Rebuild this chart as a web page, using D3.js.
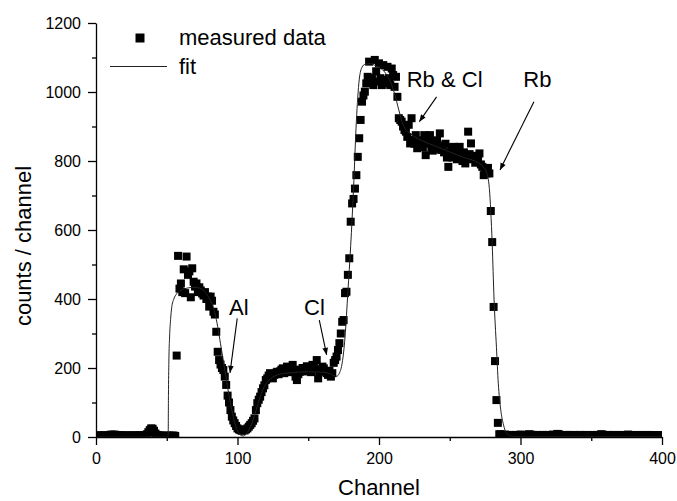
<!DOCTYPE html>
<html>
<head>
<meta charset="utf-8">
<script src="https://cdn.jsdelivr.net/npm/d3@7"></script>
<style>
  body { margin: 0; background: #fff; }
  text { font-family: "Liberation Sans", Arial, sans-serif; fill: #000; }
</style>
</head>
<body>
<div id="chart"></div>
<script>
const WIDTH = 677;
const HEIGHT = 501;
const margin = { top: 23, right: 15, bottom: 64, left: 96 };

// measured counts, one value per channel (0..400)
const counts = [
  4, 3, 5, 4, 3, 4, 5, 3, 4, 5,
  6, 7, 6, 7, 6, 5, 5, 4, 4, 5,
  4, 4, 3, 4, 4, 5, 4, 3, 4, 4,
  4, 5, 4, 4, 5, 6, 8, 14, 20, 25,
  24, 18, 10, 6, 5, 4, 4, 3, 4, 3,
  4, 3, 4, 3, 4, 4, 3, 236, 525, 430,
  445, 420, 486, 417, 523, 470, 480, 405, 489, 450,
  436, 445, 420, 434, 425, 416, 410, 420, 400, 407,
  378, 407, 395, 363, 355, 305, 247, 223, 210, 200,
  194, 175, 151, 120, 100, 78, 59, 48, 40, 32,
  25, 22, 20, 18, 20, 19, 22, 25, 30, 35,
  40, 47, 54, 78, 98, 108, 117, 130, 141, 150,
  165, 170, 178, 185, 175, 170, 180, 186, 189, 182,
  190, 195, 199, 185, 192, 204, 196, 200, 188, 209,
  195, 175, 165, 182, 189, 195, 200, 190, 199, 205,
  193, 200, 188, 209, 203, 195, 223, 170, 190, 196,
  204, 199, 190, 185, 180, 192, 175, 185, 215, 223,
  233, 252, 272, 300, 334, 339, 417, 421, 470, 518,
  624, 677, 690, 720, 759, 812, 866, 919, 972, 990,
  1001, 1025, 1044, 1088, 1030, 1040, 1020, 1093, 1060, 1030,
  1083, 1040, 1020, 1078, 1035, 1025, 1073, 1040, 1020, 1068,
  1049, 1015, 1044, 986, 924, 919, 914, 900, 890, 885,
  870, 905, 851, 924, 861, 850, 875, 837, 860, 845,
  855, 840, 875, 817, 850, 865, 875, 840, 830, 855,
  845, 860, 835, 880, 832, 845, 825, 850, 810, 783,
  822, 840, 810, 841, 820, 805, 830, 841, 815, 800,
  825, 793, 810, 885, 820, 851, 805, 815, 795, 810,
  800, 822, 790, 783, 759, 774, 764, 780, 764, 655,
  565, 377, 220, 107, 41, 8, 8, 6, 5, 7,
  6, 5, 4, 6, 5, 4, 5, 6, 4, 5,
  7, 6, 5, 4, 5, 6, 8, 7, 5, 6,
  4, 5, 6, 5, 4, 5, 6, 5, 4, 6,
  5, 4, 5, 7, 6, 5, 9, 8, 6, 5,
  4, 5, 6, 5, 6, 4, 5, 4, 6, 5,
  4, 5, 6, 5, 4, 5, 6, 5, 4, 5,
  4, 6, 5, 4, 5, 6, 5, 8, 7, 5,
  4, 5, 6, 5, 4, 5, 6, 4, 5, 4,
  5, 6, 5, 4, 5, 4, 7, 5, 6, 5,
  4, 5, 4, 5, 6, 5, 4, 5, 4, 5,
  6, 4, 5, 4, 5, 4, 5, 4, 5, 4,
  5
];
const channels = d3.range(counts.length);

// fitted curve
const fitChannel = [0, 51, 51.2, 51.5, 52, 52.7, 53.5, 55, 57, 60, 65, 70, 75, 78, 81,
  84, 86, 88, 90, 92, 94, 96, 98, 100, 102, 104, 106, 108, 110, 112, 114, 116, 118,
  120, 123, 126, 130, 140, 150, 160, 165, 168, 170, 172, 174, 176, 178, 180, 182,
  184, 186, 188, 190, 194, 198, 204, 208, 211, 214, 217, 222, 230, 240, 250, 260,
  270, 274, 276, 278, 280, 281.3, 283, 284.3, 286, 288, 290, 293, 300, 400];
const fitCounts = [0, 0, 120, 220, 290, 340, 375, 400, 415, 425, 432, 434, 428, 415, 395,
  360, 320, 270, 220, 170, 120, 78, 42, 18, 6, 3, 8, 20, 38, 62, 90, 116, 138,
  154, 168, 176, 182, 187, 189, 188, 184, 178, 176, 185, 215, 290, 420, 555, 720,
  915, 1035, 1072, 1080, 1082, 1075, 1058, 1030, 995, 948, 905, 880, 860, 843, 826, 810,
  795, 782, 768, 720, 560, 400, 260, 156, 80, 35, 12, 3, 1, 1];

const xTicks = [0, 100, 200, 300, 400];
const xMinorTicks = [50, 150, 250, 350];
const yTicks = [0, 200, 400, 600, 800, 1000, 1200];
const yMinorTicks = [100, 300, 500, 700, 900, 1100];

// annotation labels and arrows, in data units
const labels = ["Al", "Cl", "Rb & Cl", "Rb"];
const labelAt = [[94, 354], [147, 354], [219.6, 1014], [302, 1014]];
const arrowFrom = [[99.8, 344], [157.8, 339], [240.7, 986], [309.5, 972]];
const arrowTo = [[94.7, 186], [163, 238], [228.5, 914], [285.5, 774]];

const x = d3.scaleLinear().domain([0, 400]).range([margin.left, WIDTH - margin.right]);
const y = d3.scaleLinear().domain([0, 1200]).range([HEIGHT - margin.bottom, margin.top]);

const svg = d3.select("#chart").append("svg")
  .attr("width", WIDTH)
  .attr("height", HEIGHT);

svg.append("defs").append("clipPath")
  .attr("id", "plotclip")
  .append("rect")
  .attr("x", margin.left)
  .attr("y", margin.top)
  .attr("width", WIDTH - margin.right - margin.left)
  .attr("height", HEIGHT - margin.bottom - margin.top);

svg.select("defs").append("marker")
  .attr("id", "head")
  .attr("markerUnits", "userSpaceOnUse")
  .attr("viewBox", "0 0 10 10")
  .attr("refX", 10)
  .attr("refY", 5)
  .attr("markerWidth", 9)
  .attr("markerHeight", 7)
  .attr("orient", "auto")
  .append("path")
  .attr("d", "M0,1 L10,5 L0,9 Z")
  .attr("fill", "#000");

const plot = svg.append("g").attr("clip-path", "url(#plotclip)");

// measured squares
const SQ = 8;
plot.selectAll("rect.pt")
  .data(channels)
  .enter()
  .append("rect")
  .attr("class", "pt")
  .attr("x", (d) => x(d) - SQ / 2)
  .attr("y", (d) => y(counts[d]) - SQ / 2)
  .attr("width", SQ)
  .attr("height", SQ)
  .attr("fill", "#000");

// fit line
const line = d3.line()
  .x((d, i) => x(fitChannel[i]))
  .y((d) => y(d))
  .curve(d3.curveMonotoneX);

plot.append("path")
  .datum(fitCounts)
  .attr("d", line)
  .attr("fill", "none")
  .attr("stroke", "#222")
  .attr("stroke-width", 1);

// axes
function styleAxis(g) {
  g.selectAll("path.domain").attr("stroke", "#000").attr("stroke-width", 1.3);
  g.selectAll("line").attr("stroke", "#000").attr("stroke-width", 1.3);
  g.selectAll("text").style("font-size", "16px").attr("fill", "#000");
}

svg.append("g")
  .attr("transform", `translate(0,${HEIGHT - margin.bottom})`)
  .call(d3.axisBottom(x).tickValues(xMinorTicks).tickSize(4).tickFormat(""))
  .call((g) => g.select(".domain").remove())
  .call(styleAxis);

svg.append("g")
  .attr("transform", `translate(${margin.left},0)`)
  .call(d3.axisLeft(y).tickValues(yMinorTicks).tickSize(4).tickFormat(""))
  .call((g) => g.select(".domain").remove())
  .call(styleAxis);

svg.append("g")
  .attr("transform", `translate(0,${HEIGHT - margin.bottom})`)
  .call(d3.axisBottom(x).tickValues(xTicks).tickSize(8).tickSizeOuter(0).tickPadding(8).tickFormat(d3.format("d")))
  .call(styleAxis);

svg.append("g")
  .attr("transform", `translate(${margin.left},0)`)
  .call(d3.axisLeft(y).tickValues(yTicks).tickSize(8).tickSizeOuter(0).tickPadding(7).tickFormat(d3.format("d")))
  .call(styleAxis);

// axis titles
svg.append("text")
  .attr("x", (margin.left + WIDTH - margin.right) / 2)
  .attr("y", 495)
  .attr("text-anchor", "middle")
  .style("font-size", "22px")
  .text("Channel");

svg.append("text")
  .attr("transform", `translate(31,${(margin.top + HEIGHT - margin.bottom) / 2 + 16}) rotate(-90)`)
  .attr("text-anchor", "middle")
  .style("font-size", "22px")
  .text("counts / channel");

// legend
const legend = svg.append("g");
legend.append("rect")
  .attr("x", 135.5)
  .attr("y", 33.5)
  .attr("width", 9)
  .attr("height", 9)
  .attr("fill", "#000");
legend.append("text")
  .attr("x", 179)
  .attr("y", 45)
  .style("font-size", "22px")
  .text("measured data");
legend.append("line")
  .attr("x1", 110)
  .attr("x2", 167)
  .attr("y1", 66.5)
  .attr("y2", 66.5)
  .attr("stroke", "#222")
  .attr("stroke-width", 1);
legend.append("text")
  .attr("x", 179)
  .attr("y", 74)
  .style("font-size", "22px")
  .text("fit");

// annotations
const notes = svg.append("g");
notes.selectAll("text.note")
  .data(labels)
  .enter()
  .append("text")
  .attr("class", "note")
  .attr("x", (d, i) => x(labelAt[i][0]))
  .attr("y", (d, i) => y(labelAt[i][1]))
  .style("font-size", "22px")
  .text((d) => d);

notes.selectAll("line.arrow")
  .data(labels)
  .enter()
  .append("line")
  .attr("class", "arrow")
  .attr("x1", (d, i) => x(arrowFrom[i][0]))
  .attr("y1", (d, i) => y(arrowFrom[i][1]))
  .attr("x2", (d, i) => x(arrowTo[i][0]))
  .attr("y2", (d, i) => y(arrowTo[i][1]))
  .attr("stroke", "#000")
  .attr("stroke-width", 1.1)
  .attr("marker-end", "url(#head)");
</script>
</body>
</html>
